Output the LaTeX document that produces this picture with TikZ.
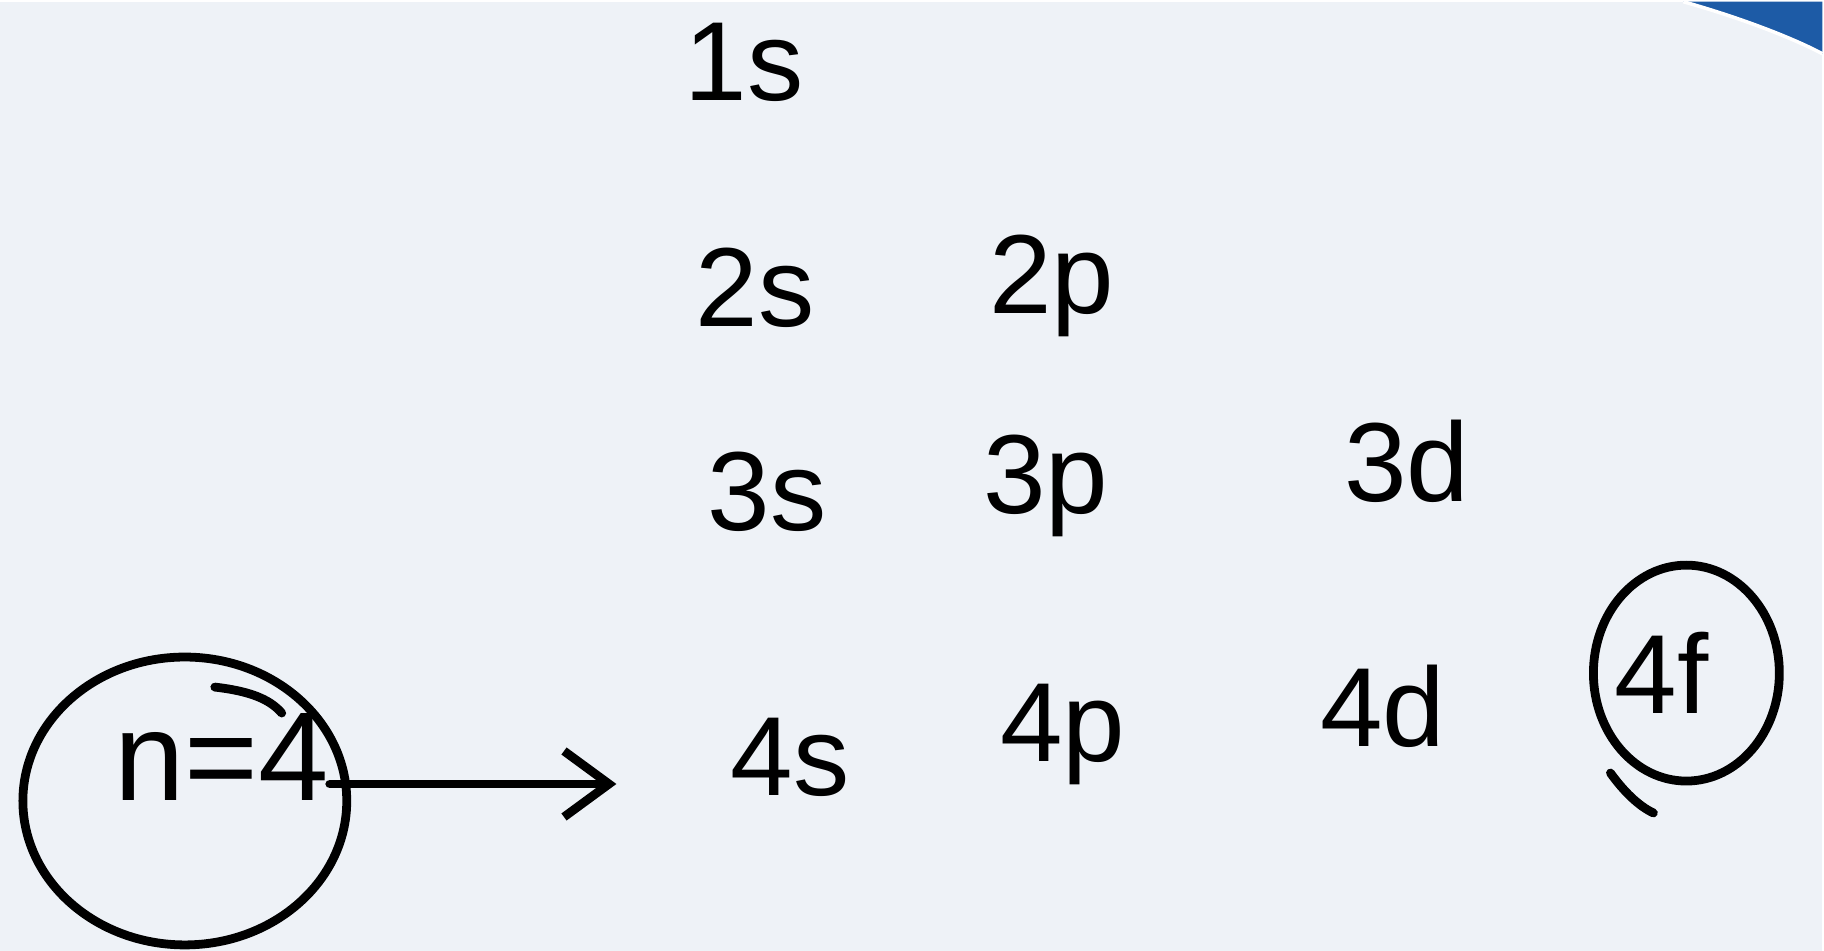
\documentclass[tikz,border=0pt]{standalone}
\usepackage{fontspec}
\setmainfont{Liberation Sans}
\usetikzlibrary{positioning, arrows.meta}

\definecolor{paper}{HTML}{EEF2F7}
\definecolor{swoosh}{HTML}{1D5BA6}

\begin{document}
\begin{tikzpicture}[
        x=0.01cm, y=-0.01cm,
        orbital/.style={
            anchor=base, inner sep=0pt,
            font=\fontsize{32}{38}\selectfont
        },
        pen/.style={line width=2.5pt, line cap=round},
        pointer/.style={pen, -{Straight Barb[length=0.45cm, width=0.66cm, line width=2.5pt]}}
    ]

        % page and corner decoration
        \fill[paper] (0,0) rectangle (1824,950);
        \fill[swoosh] (1685,0) .. controls (1735,14) and (1790,34) .. (1824,52) -- (1824,0) -- cycle;
        \draw[white, line width=1pt] (1685,0) .. controls (1735,14) and (1790,34) .. (1824,52);

        % orbitals, one row per shell
        \node[orbital] (s1) at (745,99) {1s};

        \node[orbital] (s2) at (756,325) {2s};
        \node[orbital] (p2) at (1053,312) {2p};

        \node[orbital] (s3) at (768,529) {3s};
        \node[orbital] (p3) at (1047,512) {3p};
        \node[orbital] (d3) at (1408,500) {3d};

        \node[orbital] (s4) at (791,795) {4s};
        \node[orbital] (p4) at (1064,760) {4p};
        \node[orbital] (d4) at (1384,745) {4d};
        \node[orbital] (f4) at (1663,712) {4f};

        \node[orbital, font=\fontsize{36}{42}\selectfont] (nlabel) at (222,800) {n=4};

        % rings
        \draw[pen] (185,800) ellipse [x radius=1.62cm, y radius=1.44cm];
        \draw[pen] (215,686) .. controls (250,690) and (270,698) .. (282,712);
        \draw[pen] (1688,672) ellipse [x radius=0.93cm, y radius=1.08cm];
        \draw[pen] (1612,772) .. controls (1625,790) and (1640,805) .. (1655,812);

        \coordinate (tip) at (617,783);
        \draw[pointer] (nlabel.east |- tip) -- (tip);

    \end{tikzpicture}
\end{document}
